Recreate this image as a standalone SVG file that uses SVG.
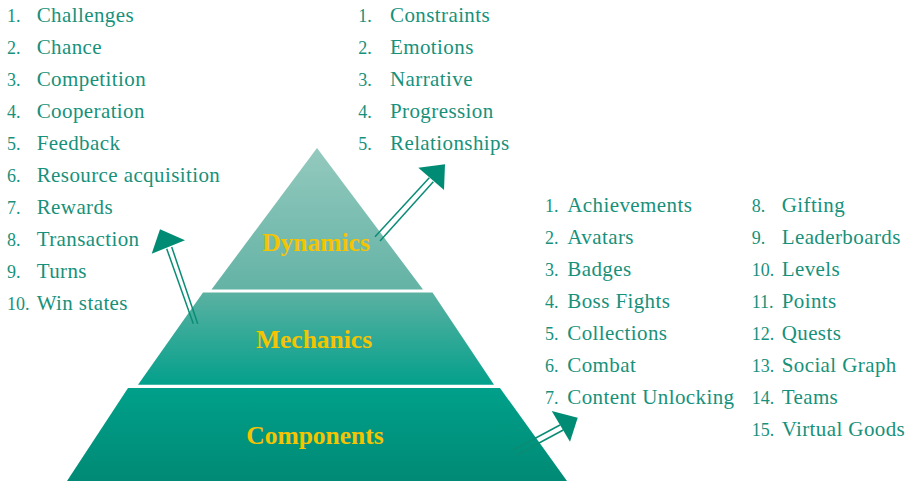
<svg xmlns="http://www.w3.org/2000/svg" width="912" height="481" viewBox="0 0 912 481">
<defs>
<linearGradient id="gTop" x1="0" y1="148" x2="0" y2="290" gradientUnits="userSpaceOnUse">
<stop offset="0" stop-color="#94c9be"/><stop offset="1" stop-color="#63b3a5"/>
</linearGradient>
<linearGradient id="gMid" x1="0" y1="292" x2="0" y2="385" gradientUnits="userSpaceOnUse">
<stop offset="0" stop-color="#5bb1a2"/><stop offset="1" stop-color="#03a08b"/>
</linearGradient>
<linearGradient id="gBot" x1="0" y1="388" x2="0" y2="481" gradientUnits="userSpaceOnUse">
<stop offset="0" stop-color="#00a08a"/><stop offset="1" stop-color="#008a75"/>
</linearGradient>
<style>
.num{font-family:"Liberation Serif","Times New Roman",serif;font-size:18px;fill:#17917b}
.item{font-family:"Liberation Serif","Times New Roman",serif;font-size:21px;fill:#17917b;letter-spacing:0.4px}
.lbl{font-family:"Liberation Serif","Times New Roman",serif;font-size:25.5px;font-weight:bold;fill:#f5c400;text-anchor:middle}
.shaft{stroke:#0a8c75;stroke-width:1.5;fill:none}
.head{fill:#008c74}
</style>
</defs>
<rect width="912" height="481" fill="#ffffff"/>
<g id="dynamics">
<polygon points="317,148 423,289.5 211.5,289.5" fill="url(#gTop)"/>
<text class="lbl" x="316" y="251">Dynamics</text>
</g>
<g id="mechanics">
<polygon points="203,292.5 432.5,292.5 494,384.7 138,384.7" fill="url(#gMid)"/>
<text class="lbl" x="314" y="348">Mechanics</text>
</g>
<g id="components">
<polygon points="128,388 500,388 567,481 67,481" fill="url(#gBot)"/>
<text class="lbl" x="315" y="444">Components</text>
</g>
<g id="mechanics-list">
<text class="num" x="7" y="21.5">1.</text><text class="item" x="36.7" y="21.5">Challenges</text>
<text class="num" x="7" y="53.5">2.</text><text class="item" x="36.7" y="53.5">Chance</text>
<text class="num" x="7" y="85.5">3.</text><text class="item" x="36.7" y="85.5">Competition</text>
<text class="num" x="7" y="117.5">4.</text><text class="item" x="36.7" y="117.5">Cooperation</text>
<text class="num" x="7" y="149.5">5.</text><text class="item" x="36.7" y="149.5">Feedback</text>
<text class="num" x="7" y="181.5">6.</text><text class="item" x="36.7" y="181.5">Resource acquisition</text>
<text class="num" x="7" y="213.5">7.</text><text class="item" x="36.7" y="213.5">Rewards</text>
<text class="num" x="7" y="245.5">8.</text><text class="item" x="36.7" y="245.5">Transaction</text>
<text class="num" x="7" y="277.5">9.</text><text class="item" x="36.7" y="277.5">Turns</text>
<text class="num" x="7" y="309.5">10.</text><text class="item" x="36.7" y="309.5">Win states</text>
</g>
<g id="dynamics-list">
<text class="num" x="358.3" y="21.5">1.</text><text class="item" x="390" y="21.5">Constraints</text>
<text class="num" x="358.3" y="53.5">2.</text><text class="item" x="390" y="53.5">Emotions</text>
<text class="num" x="358.3" y="85.5">3.</text><text class="item" x="390" y="85.5">Narrative</text>
<text class="num" x="358.3" y="117.5">4.</text><text class="item" x="390" y="117.5">Progression</text>
<text class="num" x="358.3" y="149.5">5.</text><text class="item" x="390" y="149.5">Relationships</text>
</g>
<g id="components-list">
<text class="num" x="545" y="211.5">1.</text><text class="item" x="567.3" y="211.5">Achievements</text>
<text class="num" x="545" y="243.5">2.</text><text class="item" x="567.3" y="243.5">Avatars</text>
<text class="num" x="545" y="275.5">3.</text><text class="item" x="567.3" y="275.5">Badges</text>
<text class="num" x="545" y="307.5">4.</text><text class="item" x="567.3" y="307.5">Boss Fights</text>
<text class="num" x="545" y="339.5">5.</text><text class="item" x="567.3" y="339.5">Collections</text>
<text class="num" x="545" y="371.5">6.</text><text class="item" x="567.3" y="371.5">Combat</text>
<text class="num" x="545" y="403.5">7.</text><text class="item" x="567.3" y="403.5">Content Unlocking</text>
<text class="num" x="751.7" y="211.5">8.</text><text class="item" x="781.7" y="211.5">Gifting</text>
<text class="num" x="751.7" y="243.5">9.</text><text class="item" x="781.7" y="243.5">Leaderboards</text>
<text class="num" x="751.7" y="275.5">10.</text><text class="item" x="781.7" y="275.5">Levels</text>
<text class="num" x="751.7" y="307.5">11.</text><text class="item" x="781.7" y="307.5">Points</text>
<text class="num" x="751.7" y="339.5">12.</text><text class="item" x="781.7" y="339.5">Quests</text>
<text class="num" x="751.7" y="371.5">13.</text><text class="item" x="781.7" y="371.5">Social Graph</text>
<text class="num" x="751.7" y="403.5">14.</text><text class="item" x="781.7" y="403.5">Teams</text>
<text class="num" x="751.7" y="435.5">15.</text><text class="item" x="781.7" y="435.5">Virtual Goods</text>
</g>
<g id="connectors">
<g id="arrow-dynamics">
<line class="shaft" x1="375" y1="236.7" x2="429.3" y2="177.7"/>
<line class="shaft" x1="380" y1="241" x2="433.3" y2="181.7"/>
<polygon class="head" points="418.3,167.7 445,164.3 444,190"/>
</g>
<g id="arrow-mechanics">
<line class="shaft" x1="193.3" y1="323.7" x2="166.7" y2="248.7"/>
<line class="shaft" x1="197.7" y1="323.7" x2="171.7" y2="247"/>
<polygon class="head" points="151.7,253.7 160,229.3 185,240.3"/>
</g>
<g id="arrow-components">
<line class="shaft" x1="513.3" y1="450" x2="560" y2="425"/>
<line class="shaft" x1="516.7" y1="455" x2="563.3" y2="430"/>
<polygon class="head" points="551.7,411 577.7,417.7 570,441.7"/>
</g>
</g>
</svg>
